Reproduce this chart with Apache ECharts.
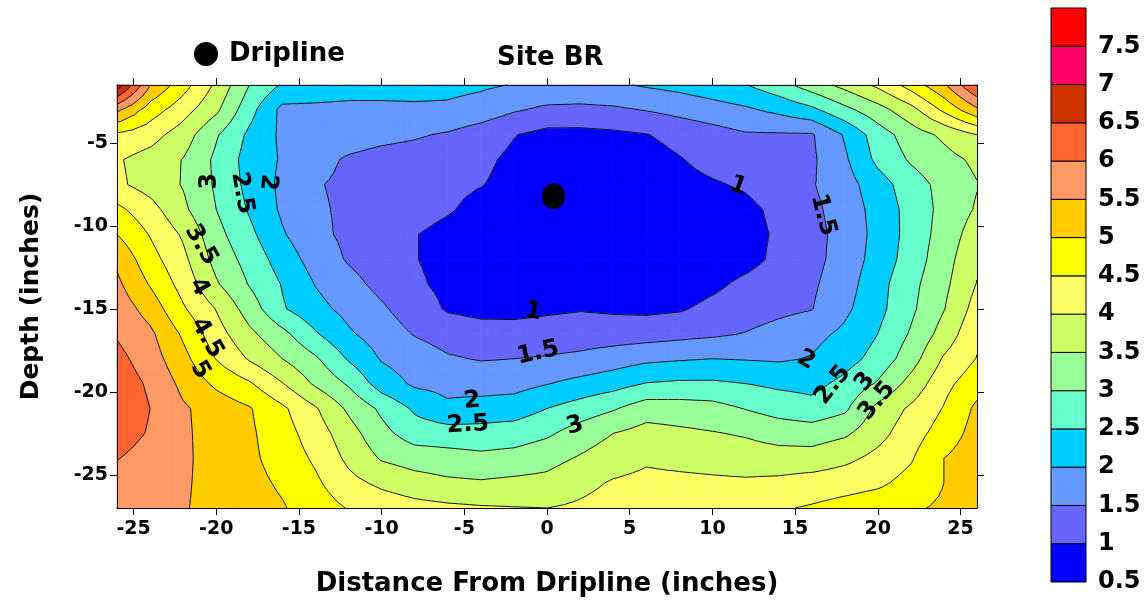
<!DOCTYPE html>
<html>
<head>
<meta charset="utf-8">
<script src="https://cdn.jsdelivr.net/npm/echarts@6/dist/echarts.min.js"></script>
<style>
  html, body { margin: 0; padding: 0; background: #fff; }
  #chart { width: 1144px; height: 608px; }
</style>
</head>
<body>
<div id="chart"></div>
<script>
// grid nodes (inches)
var xs = [-26, -24, -22, -20, -18, -16, -14, -12, -10, -8, -6, -4, -2, 0, 2, 4, 6, 8, 10, 12, 14, 16, 18, 20, 22, 24, 26];
var depths = [-1.5, -3, -4.5, -6, -7.5, -9, -10.5, -12, -13.5, -15, -16.5, -18, -19.5, -21, -22.5, -24, -25.5, -27];

// one row per depth, one value per x
var moisture = [
  [7.3, 5.5, 4.7, 3.9, 3.0, 2.45, 2.3, 2.2, 2.2, 2.2, 2.15, 2.08, 1.98, 1.9, 1.88, 1.93, 2.05, 2.15, 2.3, 2.48, 2.8, 3.25, 3.65, 4.1, 4.7, 5.42, 6.55],
  [5.6, 4.75, 4.2, 3.6, 2.68, 1.86, 1.88, 1.88, 1.88, 1.9, 1.9, 1.78, 1.55, 1.4, 1.38, 1.42, 1.52, 1.65, 1.78, 1.92, 2.12, 2.38, 2.86, 3.3, 3.82, 4.6, 5.4],
  [4.4, 4.2, 3.75, 3.05, 2.4, 1.9, 1.8, 1.7, 1.62, 1.55, 1.45, 1.25, 1.02, 0.85, 0.85, 0.9, 0.98, 1.15, 1.3, 1.45, 1.45, 1.45, 2.05, 2.75, 3.25, 3.6, 4.0],
  [4.05, 3.8, 3.48, 2.9, 2.3, 1.95, 1.63, 1.45, 1.35, 1.3, 1.22, 1.1, 0.9, 0.7, 0.68, 0.72, 0.8, 0.97, 1.15, 1.25, 1.32, 1.42, 1.92, 2.62, 3.06, 3.33, 3.6],
  [4.1, 3.79, 3.47, 2.93, 2.35, 1.89, 1.53, 1.42, 1.3, 1.22, 1.12, 1.02, 0.85, 0.62, 0.6, 0.65, 0.75, 0.85, 0.95, 1.06, 1.26, 1.46, 1.8, 2.27, 2.77, 3.16, 3.48],
  [4.62, 4.19, 3.6, 3.0, 2.45, 1.92, 1.56, 1.43, 1.3, 1.2, 1.05, 0.85, 0.7, 0.6, 0.58, 0.6, 0.65, 0.72, 0.8, 0.88, 1.11, 1.38, 1.73, 2.17, 2.68, 3.15, 3.55],
  [5.0, 4.47, 3.93, 3.16, 2.62, 2.05, 1.62, 1.4, 1.25, 1.02, 0.85, 0.7, 0.62, 0.58, 0.57, 0.58, 0.6, 0.65, 0.72, 0.85, 1.06, 1.33, 1.68, 2.15, 2.68, 3.21, 3.75],
  [5.4, 4.69, 4.12, 3.33, 2.81, 2.27, 1.79, 1.45, 1.25, 1.02, 0.85, 0.7, 0.62, 0.6, 0.58, 0.58, 0.6, 0.65, 0.72, 0.85, 1.1, 1.35, 1.7, 2.2, 2.72, 3.3, 3.9],
  [5.6, 4.96, 4.31, 3.56, 2.97, 2.47, 1.98, 1.66, 1.36, 1.08, 0.88, 0.75, 0.68, 0.65, 0.63, 0.62, 0.65, 0.75, 0.9, 1.1, 1.25, 1.42, 1.78, 2.32, 2.85, 3.38, 4.02],
  [5.8, 5.3, 4.56, 3.98, 3.27, 2.55, 2.16, 1.85, 1.57, 1.25, 0.95, 0.85, 0.85, 0.92, 0.97, 0.93, 0.9, 0.95, 1.12, 1.25, 1.38, 1.48, 1.9, 2.35, 2.9, 3.48, 4.2],
  [5.95, 5.6, 4.92, 4.21, 3.61, 3.14, 2.55, 2.07, 1.75, 1.47, 1.3, 1.22, 1.2, 1.22, 1.25, 1.25, 1.28, 1.35, 1.42, 1.52, 1.68, 1.85, 2.1, 2.5, 3.05, 3.7, 4.4],
  [6.15, 5.74, 5.15, 4.48, 3.95, 3.5, 3.07, 2.45, 1.96, 1.76, 1.55, 1.47, 1.5, 1.54, 1.61, 1.75, 1.89, 1.95, 2.0, 1.97, 1.94, 2.03, 2.3, 2.68, 3.27, 4.06, 4.52],
  [6.3, 5.92, 5.37, 4.9, 4.56, 4.02, 3.42, 2.94, 2.26, 1.92, 1.85, 1.8, 1.82, 1.98, 2.15, 2.3, 2.52, 2.58, 2.58, 2.5, 2.4, 2.35, 2.63, 3.05, 3.67, 4.35, 4.8],
  [6.38, 6.0, 5.56, 5.29, 5.04, 4.59, 4.05, 3.41, 2.9, 2.42, 2.1, 2.19, 2.25, 2.5, 2.72, 2.95, 3.27, 3.24, 3.18, 2.98, 2.8, 2.67, 2.9, 3.64, 4.08, 4.53, 5.1],
  [6.25, 5.95, 5.57, 5.32, 5.08, 4.71, 4.25, 3.71, 3.15, 2.75, 2.72, 2.7, 2.75, 2.92, 3.23, 3.5, 3.68, 3.6, 3.53, 3.45, 3.3, 3.26, 3.42, 3.83, 4.28, 4.72, 5.2],
  [6.02, 5.79, 5.57, 5.34, 5.1, 4.8, 4.42, 3.89, 3.45, 3.28, 3.2, 3.12, 3.18, 3.33, 3.55, 3.77, 3.93, 3.85, 3.8, 3.74, 3.71, 3.71, 3.88, 4.14, 4.45, 5.0, 5.3],
  [5.8, 5.68, 5.55, 5.36, 5.15, 4.93, 4.59, 4.15, 3.9, 3.72, 3.6, 3.56, 3.62, 3.65, 3.86, 4.05, 4.13, 4.13, 4.1, 4.08, 4.12, 4.22, 4.3, 4.41, 4.67, 5.0, 5.35],
  [5.7, 5.6, 5.53, 5.37, 5.2, 5.04, 4.76, 4.47, 4.3, 4.17, 4.1, 4.05, 4.02, 4.0, 4.08, 4.2, 4.3, 4.33, 4.37, 4.4, 4.45, 4.55, 4.68, 4.8, 4.93, 5.08, 5.4]
];

var levels = [0.5, 1, 1.5, 2, 2.5, 3, 3.5, 4, 4.5, 5, 5.5, 6, 6.5, 7, 7.5, 8];
var bandColors = ['#0000FF', '#6666FF', '#6699FF', '#00CCFF', '#66FFCC', '#99FF99', '#CCFF66',
  '#FFFF66', '#FFFF00', '#FFCC00', '#FF9966', '#FF6633', '#CC3300', '#FF0066', '#FF0000'];

var xTicks = [-25, -20, -15, -10, -5, 0, 5, 10, 15, 20, 25];
var yTicks = [-25, -20, -15, -10, -5];

var driplinePoint = [[0.4, -8.2]];

// contour labels: text, x, depth, rotation
var contourLabels = [
  ['3', -20.38, -7.29, 90], ['2.5', -18.44, -8.01, -80], ['2', -16.87, -7.35, -95],
  ['3.5', -20.92, -11.14, -60], ['4', -21.04, -13.68, -60], ['4.5', -20.56, -16.75, -60], ['5', -20.98, -18.68, -60],
  ['1', -0.85, -15.18, -10], ['1.5', -0.55, -17.65, 12], ['2', -4.54, -20.55, 5], ['2.5', -4.78, -21.99, 3], ['3', 1.69, -22.05, 15],
  ['1', 11.55, -7.59, -20], ['1.5', 16.69, -9.34, -75],
  ['2', 15.66, -18.08, -30], ['2.5', 17.29, -19.58, 52], ['3', 19.22, -19.4, 52], ['3.5', 19.95, -20.55, 50]
];

var FONT = 'DejaVu Sans';
var SUB = 3;

// cells of the grid
var cells = [];
for (var j = 0; j < depths.length - 1; j++) {
  for (var i = 0; i < xs.length - 1; i++) {
    cells.push([(xs[i] + xs[i + 1]) / 2, (depths[j] + depths[j + 1]) / 2, i, j]);
  }
}

// small triangles of one cell, with value at every corner
function cellTriangles(api, i, j) {
  var p00 = api.coord([xs[i], depths[j]]);
  var p10 = api.coord([xs[i + 1], depths[j]]);
  var p01 = api.coord([xs[i], depths[j + 1]]);
  var v00 = moisture[j][i], v10 = moisture[j][i + 1];
  var v01 = moisture[j + 1][i], v11 = moisture[j + 1][i + 1];
  function node(a, b) {
    return {
      x: p00[0] + (p10[0] - p00[0]) * a,
      y: p00[1] + (p01[1] - p00[1]) * b,
      v: v00 * (1 - a) * (1 - b) + v10 * a * (1 - b) + v01 * (1 - a) * b + v11 * a * b
    };
  }
  var tris = [];
  for (var m = 0; m < SUB; m++) {
    for (var n = 0; n < SUB; n++) {
      var q00 = node(m / SUB, n / SUB), q10 = node((m + 1) / SUB, n / SUB);
      var q01 = node(m / SUB, (n + 1) / SUB), q11 = node((m + 1) / SUB, (n + 1) / SUB);
      tris.push([q00, q10, q11], [q00, q11, q01]);
    }
  }
  return tris;
}

function clip(poly, level, keepAbove) {
  var out = [];
  for (var k = 0; k < poly.length; k++) {
    var a = poly[k], b = poly[(k + 1) % poly.length];
    var ina = keepAbove ? a.v >= level : a.v <= level;
    var inb = keepAbove ? b.v >= level : b.v <= level;
    if (ina) out.push(a);
    if (ina !== inb) {
      var t = (level - a.v) / (b.v - a.v);
      out.push({ x: a.x + (b.x - a.x) * t, y: a.y + (b.y - a.y) * t, v: level });
    }
  }
  return out;
}

function renderBands(params, api) {
  var tris = cellTriangles(api, api.value(2), api.value(3));
  var paths = {};
  tris.forEach(function (t) {
    var lo = Math.min(t[0].v, t[1].v, t[2].v), hi = Math.max(t[0].v, t[1].v, t[2].v);
    for (var k = 0; k < bandColors.length; k++) {
      if (levels[k + 1] < lo || levels[k] > hi) continue;
      var poly = clip(clip(t, levels[k], true), levels[k + 1], false);
      if (poly.length < 3) continue;
      var d = 'M' + poly.map(function (p) { return p.x.toFixed(2) + ' ' + p.y.toFixed(2); }).join('L') + 'Z';
      paths[k] = (paths[k] || '') + d;
    }
  });
  return {
    type: 'group',
    children: Object.keys(paths).map(function (k) {
      return {
        type: 'path',
        shape: { pathData: paths[k] },
        style: { fill: bandColors[k], stroke: bandColors[k], lineWidth: 0.8 }
      };
    })
  };
}

function renderLines(params, api) {
  var tris = cellTriangles(api, api.value(2), api.value(3));
  var d = '';
  tris.forEach(function (t) {
    for (var k = 1; k < levels.length - 1; k++) {
      var L = levels[k], pts = [];
      for (var e = 0; e < 3; e++) {
        var a = t[e], b = t[(e + 1) % 3];
        if ((a.v < L) !== (b.v < L)) {
          var s = (L - a.v) / (b.v - a.v);
          pts.push((a.x + (b.x - a.x) * s).toFixed(2) + ' ' + (a.y + (b.y - a.y) * s).toFixed(2));
        }
      }
      if (pts.length === 2) d += 'M' + pts[0] + 'L' + pts[1];
    }
  });
  if (!d) return null;
  return { type: 'path', shape: { pathData: d }, style: { fill: 'none', stroke: '#111', lineWidth: 1 } };
}

// colour bar pieces
var barPieces = bandColors.map(function (c, k) { return [0, levels[k], levels[k + 1], k]; });

function renderPiece(params, api) {
  var pLo = api.coord([0, api.value(1)]);
  var pHi = api.coord([0, api.value(2)]);
  var w = api.size([1, 0])[0];
  return {
    type: 'rect',
    shape: { x: pLo[0] - w / 2, y: pHi[1], width: w, height: pLo[1] - pHi[1] },
    style: { fill: bandColors[api.value(3)], stroke: '#000', lineWidth: 1 }
  };
}

var labelFont = { fontFamily: FONT, fontWeight: 'bold', color: '#000' };

var chart = echarts.init(document.getElementById('chart'), null, { renderer: 'canvas' });
chart.setOption({
  animation: false,
  textStyle: { fontFamily: FONT },
  title: {
    text: 'Site BR', left: 492, top: 40,
    textStyle: { fontFamily: FONT, fontSize: 26, fontWeight: 'bold', color: '#000' }
  },
  legend: {
    data: ['Dripline'], left: 189, top: 36, icon: 'circle', itemWidth: 24, itemHeight: 24,
    textStyle: { fontFamily: FONT, fontSize: 26, fontWeight: 'bold', color: '#000', padding: [6, 0, 0, 6] }
  },
  grid: [
    { left: 117, top: 85, width: 860, height: 423, outerBoundsMode: 'none', containLabel: false },
    { left: 1051, top: 8, width: 35, height: 574, outerBoundsMode: 'none', containLabel: false }
  ],
  xAxis: [
    {
      type: 'value', gridIndex: 0, min: -26, max: 26, position: 'bottom', z: 10,
      axisLine: { show: true, onZero: false, lineStyle: { color: '#000', width: 1 } },
      axisTick: { show: true, length: 7, customValues: xTicks, lineStyle: { color: '#000' } },
      axisLabel: Object.assign({ customValues: xTicks, fontSize: 19, margin: 12 }, labelFont),
      splitLine: { show: false },
      name: 'Distance From Dripline (inches)', nameLocation: 'middle', nameGap: 63,
      nameTextStyle: Object.assign({ fontSize: 26 }, labelFont)
    },
    {
      type: 'value', gridIndex: 0, min: -26, max: 26, position: 'top', z: 10,
      axisLine: { show: true, onZero: false, lineStyle: { color: '#000', width: 1 } },
      axisTick: { show: true, length: 7, customValues: xTicks, lineStyle: { color: '#000' } },
      axisLabel: { show: false },
      splitLine: { show: false }
    },
    {
      type: 'category', gridIndex: 1, data: ['c'], show: false
    }
  ],
  yAxis: [
    {
      type: 'value', gridIndex: 0, min: -27, max: -1.5, position: 'left', z: 10,
      axisLine: { show: true, onZero: false, lineStyle: { color: '#000', width: 1 } },
      axisTick: { show: true, length: 7, customValues: yTicks, lineStyle: { color: '#000' } },
      axisLabel: Object.assign({ customValues: yTicks, fontSize: 19, margin: 9 }, labelFont),
      splitLine: { show: false },
      name: 'Depth (inches)', nameLocation: 'middle', nameGap: 73, nameRotate: 90,
      nameTextStyle: Object.assign({ fontSize: 25 }, labelFont)
    },
    {
      type: 'value', gridIndex: 0, min: -27, max: -1.5, position: 'right', z: 10,
      axisLine: { show: true, onZero: false, lineStyle: { color: '#000', width: 1 } },
      axisTick: { show: true, length: 7, customValues: yTicks, lineStyle: { color: '#000' } },
      axisLabel: { show: false },
      splitLine: { show: false }
    },
    {
      type: 'value', gridIndex: 1, min: 0.5, max: 8, interval: 0.5, position: 'right',
      axisLine: { show: false }, axisTick: { show: false }, splitLine: { show: false },
      axisLabel: Object.assign({
        fontSize: 24, margin: 12,
        formatter: function (v) { return v >= 8 ? '' : String(v); }
      }, labelFont)
    }
  ],
  series: [
    {
      type: 'custom', name: 'bands', xAxisIndex: 0, yAxisIndex: 0, z: 1, silent: true,
      renderItem: renderBands, data: cells, encode: { x: 0, y: 1 }
    },
    {
      type: 'custom', name: 'contours', xAxisIndex: 0, yAxisIndex: 0, z: 2, silent: true,
      renderItem: renderLines, data: cells, encode: { x: 0, y: 1 }
    },
    {
      type: 'scatter', name: 'Dripline', xAxisIndex: 0, yAxisIndex: 0, z: 4,
      symbol: 'circle', symbolSize: [23, 26], itemStyle: { color: '#000', opacity: 1 },
      emphasis: { disabled: true },
      data: driplinePoint
    },
    {
      type: 'scatter', name: 'labels', xAxisIndex: 0, yAxisIndex: 0, z: 5, silent: true,
      symbolSize: 0, itemStyle: { opacity: 1, color: '#000' },
      data: contourLabels.map(function (c) {
        return { name: c[0], value: [c[1], c[2]], label: { rotate: c[3] } };
      }),
      label: Object.assign({
        show: true, position: 'inside', formatter: '{b}', fontSize: 24,
        textBorderWidth: 0, opacity: 1
      }, labelFont)
    },
    {
      type: 'custom', name: 'scale', xAxisIndex: 2, yAxisIndex: 2, silent: true,
      renderItem: renderPiece, data: barPieces, encode: { x: 0, y: [1, 2] }
    }
  ]
});
</script>
</body>
</html>
